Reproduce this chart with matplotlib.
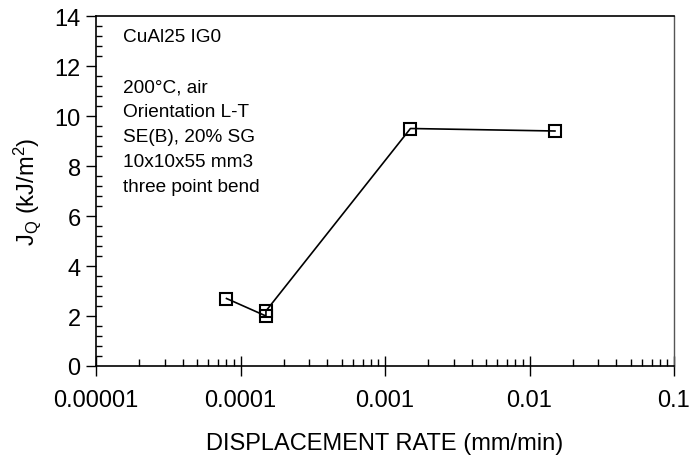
import matplotlib
matplotlib.use("Agg")
import matplotlib.pyplot as plt
from matplotlib.ticker import MultipleLocator, LogLocator, NullFormatter

plt.rcParams['font.family'] = ['Liberation Sans', 'DejaVu Sans']
plt.rcParams['mathtext.fontset'] = 'custom'
plt.rcParams['mathtext.rm'] = 'Liberation Sans'
plt.rcParams['mathtext.it'] = 'Liberation Sans'

rate = [0.00008, 0.00015, 0.00015, 0.0015, 0.015]
jq = [2.7, 2.0, 2.2, 9.5, 9.4]
xticks = [0.00001, 0.0001, 0.001, 0.01, 0.1]
xticklabels = ["0.00001", "0.0001", "0.001", "0.01", "0.1"]
yticks = [0, 2, 4, 6, 8, 10, 12, 14]
notes = ["CuAl25 IG0", "", "200\u00b0C, air", "Orientation L-T", "SE(B), 20% SG",
         "10x10x55 mm3", "three point bend"]

fig = plt.figure(figsize=(6.89, 4.56), dpi=100)
ax = fig.add_axes([96/689, 1-367/456, (674-96)/689, (367-17)/456])
ax.plot(rate, jq, color='black', lw=1.2, marker='s', ms=8, mfc='none', mec='black', mew=1.5)
ax.set_xscale('log')
ax.set_xlim(1e-5, 0.1)
ax.set_ylim(0, 14)
ax.set_xticks(xticks)
ax.set_xticklabels(xticklabels)
ax.xaxis.set_minor_locator(LogLocator(base=10, subs=range(2, 10), numticks=20))
ax.xaxis.set_minor_formatter(NullFormatter())
ax.set_yticks(yticks)
ax.yaxis.set_minor_locator(MultipleLocator(0.4))
ax.tick_params(axis='x', which='major', direction='inout', length=15, width=1, labelsize=17, pad=9)
ax.tick_params(axis='x', which='minor', direction='in', length=5, width=1)
ax.tick_params(axis='y', which='major', direction='out', length=7, width=1, labelsize=17, pad=4)
ax.tick_params(axis='y', which='minor', direction='in', length=4, width=1)
for s in ax.spines.values():
    s.set_linewidth(1.2)
ax.spines['right'].set_color('#555555')
ax.spines['right'].set_linewidth(1.0)
ax.set_xlabel("DISPLACEMENT RATE (mm/min)", fontsize=17, labelpad=15)
ax.set_ylabel("J$_\\mathregular{Q}$ (kJ/m$^\\mathregular{2}$)", fontsize=17, labelpad=8)
ax.text(0.047, 0.966, "\n".join(notes), transform=ax.transAxes, ha='left', va='top',
        fontsize=13.7, linespacing=1.62)
fig.savefig("out.png", dpi=100)
